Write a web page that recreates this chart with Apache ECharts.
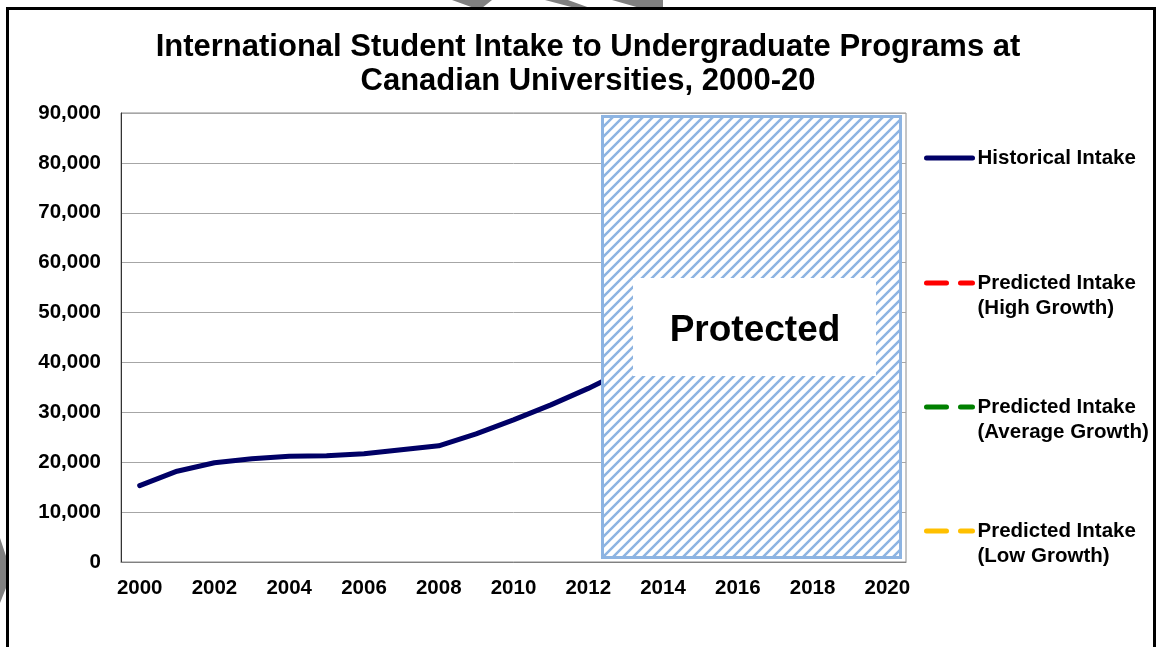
<!DOCTYPE html>
<html>
<head>
<meta charset="utf-8">
<script src="https://cdn.jsdelivr.net/npm/echarts@6/dist/echarts.min.js"></script>
<style>html,body{margin:0;padding:0;background:#fff;}#c{width:1158px;height:647px;}</style>
</head>
<body>
<div id="c"></div>
<script>
const years = ['2000','2001','2002','2003','2004','2005','2006','2007','2008','2009','2010','2011','2012','2013','2014','2015','2016','2017','2018','2019','2020'];
const historical = [15300, 18200, 19900, 20700, 21200, 21300, 21700, 22500, 23300, 25700, 28500, 31500, 34800, 38500, null, null, null, null, null, null, null];
const predictedHigh = [];
const predictedAverage = [];
const predictedLow = [];
const yTicks = { min: 0, max: 90000, interval: 10000 };

const FONT = '"Liberation Sans", Arial, sans-serif';
const chart = echarts.init(document.getElementById('c'));

// hatch pattern
const pc = document.createElement('canvas');
pc.width = 10; pc.height = 10;
const ctx = pc.getContext('2d');
ctx.fillStyle = '#ffffff'; ctx.fillRect(0, 0, 10, 10);
ctx.strokeStyle = '#8DB4E2'; ctx.lineWidth = 2.5;
ctx.beginPath();
ctx.moveTo(-1, 11); ctx.lineTo(11, -1);
ctx.moveTo(-3, 3); ctx.lineTo(3, -3);
ctx.moveTo(7, 13); ctx.lineTo(13, 7);
ctx.stroke();

function legendFor(name, top, twoLine) {
  return {
    data: [name],
    left: 924,
    top: top,
    orient: 'vertical',
    padding: 0,
    itemWidth: 46,
    itemHeight: 12,
    itemGap: 0,
    selectedMode: false,
    itemStyle: { opacity: 0 },
    lineStyle: { width: 5, cap: 'round' },
    formatter: n => (twoLine ? '\n' + n : n),
    textStyle: {
      fontFamily: FONT, fontWeight: 'bold', fontSize: 20.5, color: '#000', lineHeight: 25
    }
  };
}

const option = {
  backgroundColor: '#fff',
  animation: false,
  title: {
    text: 'International Student Intake to Undergraduate Programs at\nCanadian Universities, 2000-20',
    left: 583, textAlign: 'center', top: 25,
    textStyle: { fontFamily: FONT, fontWeight: 'bold', fontSize: 31, color: '#000', lineHeight: 34 }
  },
  legend: [
    legendFor('Historical Intake', 145.5, false),
    legendFor('Predicted Intake\n(High Growth)', 245.5, true),
    legendFor('Predicted Intake\n(Average Growth)', 369.5, true),
    legendFor('Predicted Intake\n(Low Growth)', 493.5, true)
  ],
  grid: { left: 121, right: 252, top: 113, bottom: 85, show: true, borderColor: '#8c8c8c', borderWidth: 1 },
  xAxis: {
    type: 'category', data: years, boundaryGap: true,
    axisLine: { lineStyle: { color: '#808080', width: 1 } },
    axisTick: { show: false },
    axisLabel: { interval: 1, margin: 16, fontFamily: FONT, fontWeight: 'bold', fontSize: 20.5, color: '#000' },
    splitLine: { show: false }
  },
  yAxis: {
    type: 'value', min: yTicks.min, max: yTicks.max, interval: yTicks.interval,
    axisLine: { show: true, lineStyle: { color: '#333', width: 1 } },
    axisTick: { show: false },
    axisLabel: { margin: 20, fontFamily: FONT, fontWeight: 'bold', fontSize: 20.5, color: '#000',
      formatter: v => v.toLocaleString('en-US') },
    splitLine: { lineStyle: { color: '#a6a6a6', width: 1 } }
  },
  series: [
    { name: 'Historical Intake', type: 'line', data: historical, symbol: 'none', z: 3,
      lineStyle: { color: '#000066', width: 5, cap: 'round', join: 'round' }, itemStyle: { color: '#000066' } },
    { name: 'Predicted Intake\n(High Growth)', type: 'line', data: predictedHigh, symbol: 'none',
      lineStyle: { color: '#FF0000', width: 4, type: [20, 14], cap: 'round' }, itemStyle: { color: '#FF0000' } },
    { name: 'Predicted Intake\n(Average Growth)', type: 'line', data: predictedAverage, symbol: 'none',
      lineStyle: { color: '#008000', width: 4, type: [20, 14], cap: 'round' }, itemStyle: { color: '#008000' } },
    { name: 'Predicted Intake\n(Low Growth)', type: 'line', data: predictedLow, symbol: 'none',
      lineStyle: { color: '#FFC000', width: 4, type: [20, 14], cap: 'round' }, itemStyle: { color: '#FFC000' } }
  ],
  graphic: [
    { type: 'rect', z: 100, shape: { x: 602.5, y: 116.5, width: 298, height: 441 },
      style: { fill: { image: pc, repeat: 'repeat' }, stroke: '#8DB4E2', lineWidth: 3 } },
    { type: 'rect', z: 101, shape: { x: 633, y: 278, width: 243, height: 98 }, style: { fill: '#ffffff' } },
    { type: 'text', z: 102, x: 755, y: 331,
      style: { text: 'Protected', fontFamily: FONT, fontWeight: 'bold', fontSize: 37, fill: '#000', align: 'center', verticalAlign: 'middle' } },
    { type: 'polygon', z: 109, shape: { points: [[452, 0], [492, 0], [482, 8], [474, 8]] }, style: { fill: '#808080' } },
    { type: 'polygon', z: 109, shape: { points: [[545, 0], [568, 0], [590, 8], [575, 8]] }, style: { fill: '#808080' } },
    { type: 'polygon', z: 109, shape: { points: [[612, 0], [663, 0], [663, 8], [640, 8]] }, style: { fill: '#808080' } },
    { type: 'polygon', z: 109, shape: { points: [[0, 538], [6, 556], [6, 588], [0, 603]] }, style: { fill: '#808080' } },
    { type: 'rect', z: 110, shape: { x: 7.5, y: 8.5, width: 1147, height: 700 },
      style: { fill: 'none', stroke: '#000', lineWidth: 3 } }
  ]
};
chart.setOption(option);
</script>
</body>
</html>
